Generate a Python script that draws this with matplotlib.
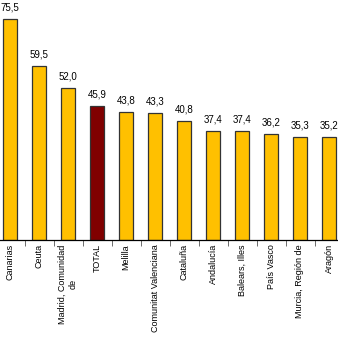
import numpy as np
import matplotlib.pyplot as plt

# datos
regiones = ['Canarias', 'Ceuta', 'Madrid, Comunidad\nde', 'TOTAL', 'Melilla',
            'Comunitat Valenciana', 'Cataluña', 'Andalucía', 'Balears, Illes',
            'País Vasco', 'Murcia, Región de', 'Aragón']
valores = [75.5, 59.5, 52.0, 45.9, 43.8, 43.3, 40.8, 37.4, 37.4, 36.2, 35.3, 35.2]
colores = ['#800000' if r == 'TOTAL' else '#FFC000' for r in regiones]

plt.rcParams['font.family'] = ['Liberation Sans', 'DejaVu Sans']

fig = plt.figure(figsize=(3.38, 3.39), dpi=100)
W, H = 338, 339
ax = fig.add_axes([-4.5 / W, (H - 240) / H, 348 / W, 240 / H])

x = np.arange(len(regiones))
ax.bar(x, valores, width=0.48, color=colores, edgecolor='#333333', linewidth=0.9)

for xi, v in zip(x, valores):
    ax.text(xi, v + 2.2, f'{v:.1f}'.replace('.', ','), ha='center', va='bottom', fontsize=7)

ax.set_xlim(-0.5, 11.5)
ax.set_ylim(0, 82)
ax.set_yticks([])
for s in ['top', 'left', 'right']:
    ax.spines[s].set_visible(False)
ax.spines['bottom'].set_linewidth(0.9)

ax.set_xticks(x)
ax.set_xticklabels(regiones, rotation=90, fontsize=6.5, ha='center', va='top',
                   multialignment='center')
ax.tick_params(axis='x', which='major', length=0, pad=3)
ax.set_xticks(np.arange(-0.5, 12, 1), minor=True)
ax.tick_params(axis='x', which='minor', length=4, width=0.6, color='#555555')

fig.savefig('out.png', dpi=100)
